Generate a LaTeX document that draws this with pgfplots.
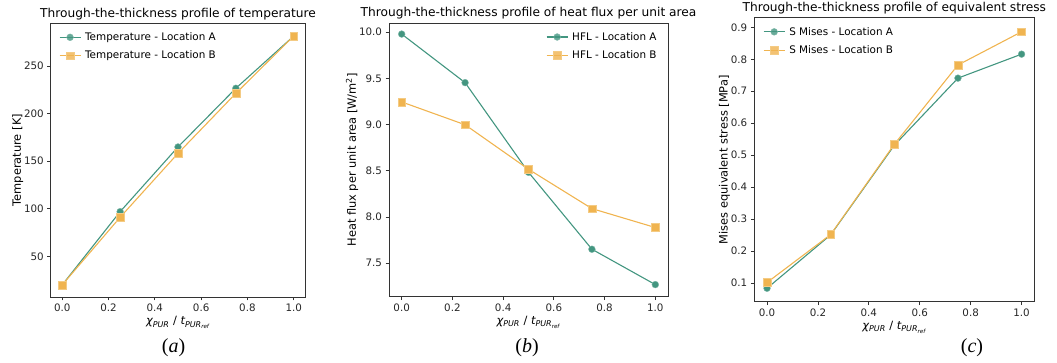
\documentclass[border=0pt]{standalone}
\usepackage{fontspec}
\setmainfont{DejaVu Sans}
\newfontfamily\capfont{Liberation Serif}
\usepackage{pgfplots}
\pgfplotsset{compat=1.18}
\definecolor{cA}{HTML}{439680}
\definecolor{cB}{HTML}{F0B450}
\pgfplotsset{
  every axis/.style={
    scale only axis,
    axis line style={black!80, line width=0.8pt},
    tick align=outside, tick pos=left,
    major tick length=3.5pt,
    every tick/.style={black!80, line width=0.8pt},
    /pgf/number format/assume math mode=true,
    tick label style={font=\fontsize{10.3}{12}\selectfont, text=black!85},
    label style={font=\fontsize{11.4}{13}\selectfont},
    ylabel style={yshift=-6pt},
    title style={font=\fontsize{12.2}{14}\selectfont, yshift=-6pt},
    xmin=-0.05, xmax=1.05,
    xtick={0,0.2,0.4,0.6,0.8,1.0},
    xticklabel style={/pgf/number format/.cd, fixed, fixed zerofill, precision=1},
    xlabel={\textit{χ\textsubscript{PUR}} / \textit{t\textsubscript{PUR\textsubscript{ref}}}},
    xlabel style={yshift=2pt},
    legend cell align=left,
    legend style={draw=none, fill=white, fill opacity=0.8, text opacity=1,
      font=\fontsize{10.4}{12}\selectfont, row sep=5pt, inner sep=3pt,
      nodes={inner xsep=4pt}},
    legend image code/.code={\draw[mark repeat=2,mark phase=2] plot coordinates {(0cm,0cm)(0.37cm,0cm)(0.74cm,0cm)};},
  },
  serA/.style={color=cA, line width=1.1pt, mark=*, mark size=3.4pt, mark options={solid, fill=cA, draw=cA!70!white, line width=0.4pt}},
  serB/.style={color=cB, line width=1.1pt, mark=square*, mark size=3.9pt, mark options={solid, fill=cB, draw=cB!70!white, line width=0.4pt}},
}
\begin{document}
\begin{tikzpicture}[x=1pt,y=1pt]
\useasboundingbox (0,0) rectangle (1057,363);
% (a)
\begin{axis}[at={(50.7pt,66pt)}, anchor=south west, width=254.6pt, height=273.7pt,
  ymin=7.2, ymax=294.9, ytick={50,100,150,200,250},
  ylabel={Temperature [K]},
  title={Through-the-thickness profile of temperature},
  legend style={at={(0.02,0.985)}, anchor=north west}]
\addplot[serA] coordinates {(0,20) (0.25,96.9) (0.5,164.9) (0.75,226.6) (1.0,281.5)};
\addlegendentry{Temperature - Location A}
\addplot[serB] coordinates {(0,20) (0.25,91) (0.5,158.2) (0.75,221.3) (1.0,281.5)};
\addlegendentry{Temperature - Location B}
\end{axis}
% (b)
\begin{axis}[at={(389pt,66.3pt)}, anchor=south west, width=279pt, height=273.7pt,
  ymin=7.136, ymax=10.1, ytick={7.5,8.0,8.5,9.0,9.5,10.0},
  yticklabel style={/pgf/number format/.cd, fixed, fixed zerofill, precision=1},
  ylabel={Heat flux per unit area [W/m\textsuperscript{2}]},
  title={Through-the-thickness profile of heat flux per unit area},
  legend style={at={(0.985,0.985)}, anchor=north east}]
\addplot[serA] coordinates {(0,9.98) (0.25,9.454) (0.5,8.483) (0.75,7.65) (1.0,7.267)};
\addlegendentry{HFL - Location A}
\addplot[serB] coordinates {(0,9.245) (0.25,8.998) (0.5,8.516) (0.75,8.09) (1.0,7.885)};
\addlegendentry{HFL - Location B}
\end{axis}
% (c)
\begin{axis}[at={(754.3pt,61.3pt)}, anchor=south west, width=280pt, height=284pt,
  ymin=0.042, ymax=0.93, ytick={0.1,0.2,0.3,0.4,0.5,0.6,0.7,0.8,0.9},
  yticklabel style={/pgf/number format/.cd, fixed, fixed zerofill, precision=1},
  ylabel={Mises equivalent stress [MPa]},
  title={Through-the-thickness profile of equivalent stress},
  legend style={at={(0.02,0.985)}, anchor=north west}]
\addplot[serA] coordinates {(0,0.084) (0.25,0.251) (0.5,0.531) (0.75,0.741) (1.0,0.816)};
\addlegendentry{S Mises - Location A}
\addplot[serB] coordinates {(0,0.102) (0.25,0.252) (0.5,0.534) (0.75,0.782) (1.0,0.886)};
\addlegendentry{S Mises - Location B}
\end{axis}
\node[font=\capfont\fontsize{20}{22}\selectfont] at (173.5,15) {(\textit{a})};
\node[font=\capfont\fontsize{20}{22}\selectfont] at (527,15) {(\textit{b})};
\node[font=\capfont\fontsize{20}{22}\selectfont] at (972,15) {(\textit{c})};
\end{tikzpicture}
\end{document}
